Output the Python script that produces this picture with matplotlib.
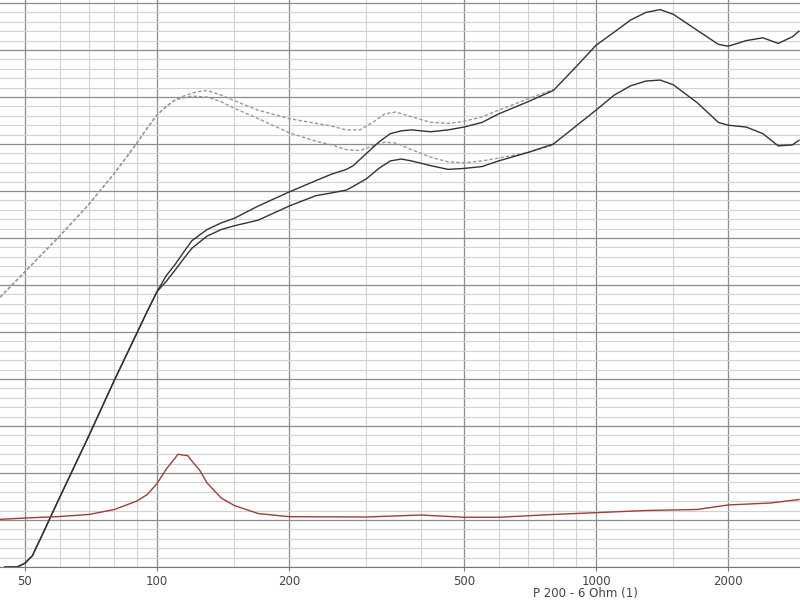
import numpy as np
import matplotlib.pyplot as plt
from matplotlib.ticker import FixedLocator, NullFormatter

# frequency response, two measurements (solid) and two simulations (dashed)
freq_spl = [45, 48, 50, 52, 55, 60, 70, 80, 90, 95, 100, 105, 110, 115, 120, 130,
            140, 150, 170, 200, 230, 250, 270, 280, 300, 320, 340, 360, 380, 420,
            460, 500, 550, 600, 700, 800, 900, 1000, 1100, 1200, 1300, 1400, 1500,
            1700, 1900, 2000, 2200, 2400, 2600, 2800, 2900]
spl_a = [50.0, 50.0, 50.4, 51.2, 53.6, 57.4, 64.0, 69.9, 74.9, 77.2, 79.3, 81.0,
         82.2, 83.5, 84.7, 85.9, 86.6, 87.1, 88.4, 89.9, 91.1, 91.8, 92.3, 92.7,
         94.0, 95.2, 96.1, 96.4, 96.5, 96.3, 96.5, 96.8, 97.3, 98.2, 99.5, 100.7,
         103.2, 105.5, 106.9, 108.2, 109.0, 109.3, 108.8, 107.1, 105.6, 105.4,
         106.0, 106.3, 105.7, 106.4, 107.0]
spl_b = [50.0, 50.0, 50.4, 51.2, 53.6, 57.4, 64.0, 69.9, 74.9, 77.2, 79.3, 80.4,
         81.6, 82.8, 83.9, 85.2, 85.9, 86.3, 86.9, 88.4, 89.5, 89.8, 90.1, 90.5,
         91.3, 92.4, 93.2, 93.4, 93.2, 92.7, 92.3, 92.4, 92.6, 93.2, 94.1, 95.0,
         96.9, 98.6, 100.2, 101.2, 101.7, 101.8, 101.3, 99.4, 97.3, 97.0, 96.8,
         96.1, 94.8, 94.9, 95.4]

freq_sim = [43.9, 50, 55, 60, 70, 80, 90, 95, 100, 105, 110, 115, 120, 125, 130,
            140, 150, 170, 200, 230, 250, 270, 290, 310, 330, 350, 380, 420, 460,
            500, 550, 600, 700, 800]
sim_a = [78.7, 81.4, 83.4, 85.2, 88.6, 91.9, 95.1, 96.7, 98.1, 99.0, 99.7, 100.1,
         100.4, 100.6, 100.7, 100.2, 99.6, 98.6, 97.7, 97.2, 96.9, 96.5, 96.5,
         97.3, 98.2, 98.4, 97.9, 97.3, 97.2, 97.4, 97.9, 98.6, 99.8, 100.8]
sim_b = [78.7, 81.4, 83.4, 85.2, 88.6, 91.9, 95.1, 96.7, 98.1, 99.0, 99.7, 99.9,
         100.1, 100.05, 100.0, 99.5, 98.8, 97.7, 96.2, 95.3, 94.9, 94.4, 94.3,
         94.8, 95.2, 95.1, 94.4, 93.6, 93.1, 93.0, 93.2, 93.5, 94.1, 94.9]

# impedance (ohm)
freq_imp = [43.9, 50, 60, 70, 80, 90, 95, 100, 105, 110, 111.5, 117.5, 120, 125,
            130, 140, 150, 170, 200, 300, 400, 500, 600, 800, 1000, 1300, 1700,
            2000, 2500, 2900]
imp = [5.07, 5.21, 5.37, 5.59, 6.12, 7.02, 7.71, 8.88, 10.43, 11.6, 11.99, 11.84,
       11.28, 10.32, 8.94, 7.34, 6.54, 5.69, 5.35, 5.32, 5.53, 5.29, 5.29, 5.59,
       5.78, 6.01, 6.12, 6.60, 6.81, 7.18]

major_f = [50, 100, 200, 500, 1000, 2000]
minor_f = [60, 70, 80, 90, 150, 300, 400, 600, 700, 800, 900, 1500, 3000]

fig = plt.figure(figsize=(8, 6), dpi=100)
ax = fig.add_axes([0, 33 / 600, 1, 567 / 600])
ax.set_xscale("log")
ax.set_xlim(43.88, 2915.6)
ax.set_ylim(50, 50 + 567 / 9.4)

ax.xaxis.set_major_locator(FixedLocator(major_f))
ax.xaxis.set_minor_locator(FixedLocator(minor_f))
ax.set_xticklabels([str(f) for f in major_f])
ax.xaxis.set_minor_formatter(NullFormatter())
ax.yaxis.set_major_locator(FixedLocator(np.arange(50, 115, 5)))
ax.yaxis.set_minor_locator(FixedLocator(np.arange(50, 112, 1)))

ax.grid(True, which="minor", color="#d2d2d2", lw=0.8)
ax.grid(True, which="major", color="#8c8c8c", lw=0.9)
ax.set_axisbelow(True)

ax.tick_params(axis="x", which="major", length=3, color="#777777",
               labelsize=8.5, labelcolor="#444444", pad=3)
ax.tick_params(axis="x", which="minor", length=0)
ax.tick_params(axis="y", which="both", length=0, labelleft=False)
for side in ["left", "right", "top"]:
    ax.spines[side].set_visible(False)
ax.spines["bottom"].set_color("#777777")

ax.plot(freq_sim, sim_a, color="#999999", lw=1.0, ls=(0, (2.5, 1.5)))
ax.plot(freq_sim, sim_b, color="#999999", lw=1.0, ls=(0, (2.5, 1.5)))
ax.plot(freq_spl, spl_a, color="#333333", lw=1.0)
ax.plot(freq_spl, spl_b, color="#333333", lw=1.0)

ax2 = ax.twinx()
ax2.set_ylim(0, 567 / 9.4)
ax2.plot(freq_imp, imp, color="#a03c3c", lw=1.0)
ax2.axis("off")

# the caption sits right at the bottom edge, as in the source
fig.text(585 / 800, 1 - 587 / 600, "P 200 - 6 Ohm (1)", ha="center", va="top",
         fontsize=8.5, color="#444444")

fig.savefig("out.png", dpi=100)
